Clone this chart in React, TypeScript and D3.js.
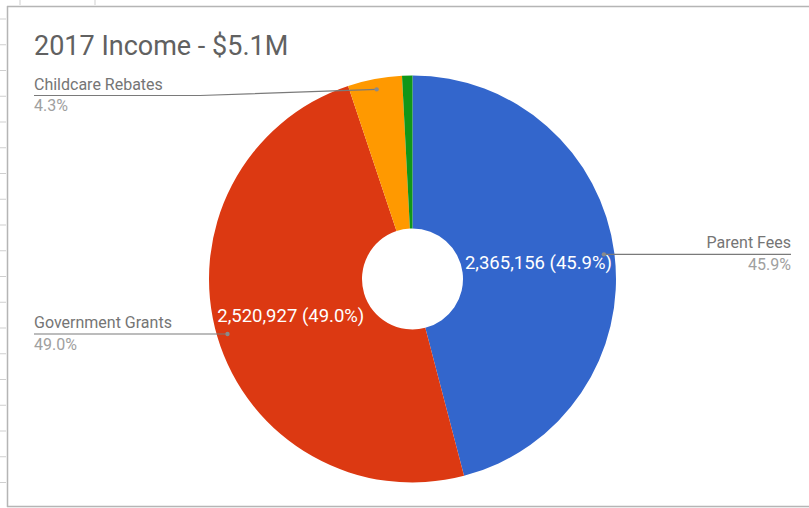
import React from "react";
import * as d3 from "d3";

const categories = ["Parent Fees", "Government Grants", "Childcare Rebates", "Other"];
const values = [2365156, 2520927, 221600, 42300];
const colors = ["#3366cc", "#dc3912", "#ff9900", "#109618"];
const title = "2017 Income - $5.1M";

const W = 809;
const H = 508;
const cx = 412.5;
const cy = 279;
const R = 203.5;
const r0 = 50.5;
const leaderR = 193;
const FONT = "Roboto, 'Noto Sans', Arial, sans-serif";

export default function App() {
  const total = d3.sum(values);
  const pie = d3.pie<number>().sort(null).value((d) => d)(values);
  const arc = d3.arc<d3.PieArcDatum<number>>().innerRadius(r0).outerRadius(R);
  const leaderArc = d3.arc<d3.PieArcDatum<number>>().innerRadius(leaderR).outerRadius(leaderR);
  const fmt = d3.format(",");
  const pctFmt = (v: number) => ((v / total) * 100).toFixed(1) + "%";

  const leftTicks = d3.range(19, H, 25.75);
  const topTicks = [20, 95];

  return (
    <svg
      width={W}
      height={H}
      style={{ position: "absolute", left: 0, top: 0, display: "block", background: "#fff" }}
      fontFamily={FONT}
    >
      {leftTicks.map((y, i) => (
        <line key={"lt" + i} x1={0} x2={6} y1={y} y2={y} stroke="#cfcfcf" strokeWidth={1} />
      ))}
      {topTicks.map((x, i) => (
        <line key={"tt" + i} x1={x} x2={x} y1={0} y2={5} stroke="#cfcfcf" strokeWidth={1} />
      ))}
      <line x1={7} x2={W} y1={6.5} y2={6.5} stroke="#b5b5b5" strokeWidth={1.5} />
      <line x1={7.5} x2={7.5} y1={6} y2={507} stroke="#b5b5b5" strokeWidth={1.5} />
      <line x1={7} x2={W} y1={506.5} y2={506.5} stroke="#b5b5b5" strokeWidth={1.5} />

      <text x={34} y={55} fontSize={27} fill="#616161">
        {title}
      </text>

      <g transform={`translate(${cx},${cy})`}>
        {pie.map((d, i) => (
          <path key={"s" + i} d={arc(d) || ""} fill={colors[i]} />
        ))}
        {pie.map((d, i) => {
          if (d.value / total < 0.1) return null;
          const [x, y] = arc.centroid(d);
          return (
            <text
              key={"il" + i}
              x={x}
              y={y}
              dy="0.36em"
              textAnchor="middle"
              fontSize={18.5}
              fill="#ffffff"
            >
              {`${fmt(d.value)} (${pctFmt(d.value)})`}
            </text>
          );
        })}
      </g>

      {pie.map((d, i) => {
        if (d.value / total < 0.02) return null;
        const [lx, ly] = leaderArc.centroid(d);
        const dotX = cx + lx;
        const dotY = cy + ly;
        const mid = (d.startAngle + d.endAngle) / 2;
        const right = mid < Math.PI;
        const lineY = Math.max(dotY, 95.5);
        const edgeX = right ? 791 : 34;
        const pts: [number, number][] =
          lineY !== dotY
            ? [
                [edgeX, lineY],
                [right ? W - 200 : 200, lineY],
                [dotX, dotY],
              ]
            : [
                [edgeX, lineY],
                [dotX, dotY],
              ];
        const line = d3.line()(pts) || "";
        return (
          <g key={"ol" + i}>
            <path d={line} fill="none" stroke="#7a7a7a" strokeWidth={1.2} />
            <circle cx={dotX} cy={dotY} r={2.2} fill="#8a8a8a" />
            <text
              x={edgeX}
              y={lineY - 6}
              textAnchor={right ? "end" : "start"}
              fontSize={16}
              fill="#757575"
            >
              {categories[i]}
            </text>
            <text
              x={edgeX}
              y={lineY + 15.5}
              textAnchor={right ? "end" : "start"}
              fontSize={16}
              fill="#a0a0a0"
            >
              {pctFmt(d.value)}
            </text>
          </g>
        );
      })}
    </svg>
  );
}
